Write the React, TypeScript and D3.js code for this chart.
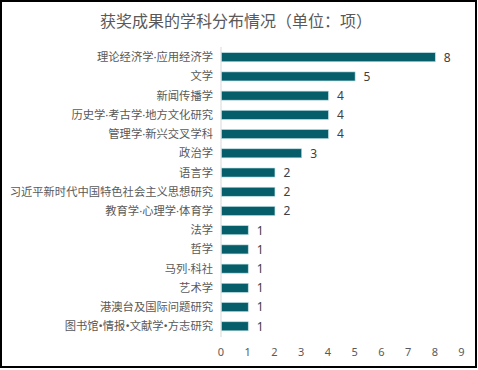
import React, { useEffect, useRef } from "react";
import * as d3 from "d3";

const categories = [
  "理论经济学·应用经济学",
  "文学",
  "新闻传播学",
  "历史学·考古学·地方文化研究",
  "管理学·新兴交叉学科",
  "政治学",
  "语言学",
  "习近平新时代中国特色社会主义思想研究",
  "教育学·心理学·体育学",
  "法学",
  "哲学",
  "马列·科社",
  "艺术学",
  "港澳台及国际问题研究",
  "图书馆•情报•文献学•方志研究",
];
const values = [8, 5, 4, 4, 4, 3, 2, 2, 2, 1, 1, 1, 1, 1, 1];
const tickValues = [0, 1, 2, 3, 4, 5, 6, 7, 8, 9];
const title = "获奖成果的学科分布情况（单位：项）";

const App: React.FC = () => {
  const svgRef = useRef<SVGSVGElement | null>(null);

  useEffect(() => {
    if (!svgRef.current) return;
    const svg = d3.select(svgRef.current);
    svg.selectAll("*").remove();

    const width = 478;
    const height = 370;
    const font = "'Noto Sans', 'Noto Sans CJK SC', sans-serif";

    svg
      .attr("width", width)
      .attr("height", height)
      .style("position", "absolute")
      .style("left", "0px")
      .style("top", "0px");

    svg
      .append("rect")
      .attr("x", 1)
      .attr("y", 1)
      .attr("width", width - 3)
      .attr("height", height - 4)
      .attr("fill", "#fff")
      .attr("stroke", "#000")
      .attr("stroke-width", 2);

    svg
      .append("text")
      .attr("x", 236)
      .attr("y", 27)
      .attr("text-anchor", "middle")
      .attr("font-family", "'Noto Sans CJK SC', sans-serif")
      .attr("font-size", 16)
      .attr("fill", "#595959")
      .text(title);

    const x = d3.scaleLinear().domain([0, 9]).range([221, 461.5]);
    const y = d3
      .scaleBand<string>()
      .domain(categories)
      .range([47.5, 336])
      .paddingInner(0.53)
      .paddingOuter(0.27);

    const g = svg.append("g");

    g.append("line")
      .attr("x1", x(0))
      .attr("x2", x(0))
      .attr("y1", 47)
      .attr("y2", 337)
      .attr("stroke", "#d9d9d9")
      .attr("stroke-width", 1);

    g.selectAll("rect.bar")
      .data(values)
      .enter()
      .append("rect")
      .attr("class", "bar")
      .attr("x", x(0) + 0.5)
      .attr("y", (_, i) => y(categories[i]) as number)
      .attr("width", (d) => x(d) - x(0))
      .attr("height", y.bandwidth())
      .attr("fill", "#065e6a")
      .attr("stroke", "#b7dde3")
      .attr("stroke-width", 0.6);

    g.selectAll("text.val")
      .data(values)
      .enter()
      .append("text")
      .attr("class", "val")
      .attr("x", (d) => x(d) + 9)
      .attr("y", (_, i) => (y(categories[i]) as number) + y.bandwidth() / 2)
      .attr("dy", "0.36em")
      .attr("font-family", font)
      .attr("font-size", 12)
      .attr("fill", "#404040")
      .text((d) => d);

    g.selectAll("text.cat")
      .data(categories)
      .enter()
      .append("text")
      .attr("class", "cat")
      .attr("x", 213)
      .attr("y", (d) => (y(d) as number) + y.bandwidth() / 2)
      .attr("dy", "0.36em")
      .attr("text-anchor", "end")
      .attr("font-family", font)
      .attr("font-size", 11.3)
      .attr("fill", "#595959")
      .text((d) => d);

    g.selectAll("text.tick")
      .data(tickValues)
      .enter()
      .append("text")
      .attr("class", "tick")
      .attr("x", (d) => x(d))
      .attr("y", 352)
      .attr("dy", "0.36em")
      .attr("text-anchor", "middle")
      .attr("font-family", font)
      .attr("font-size", 11)
      .attr("fill", "#595959")
      .text((d) => d);
  }, []);

  return <svg ref={svgRef}></svg>;
};

export default App;
